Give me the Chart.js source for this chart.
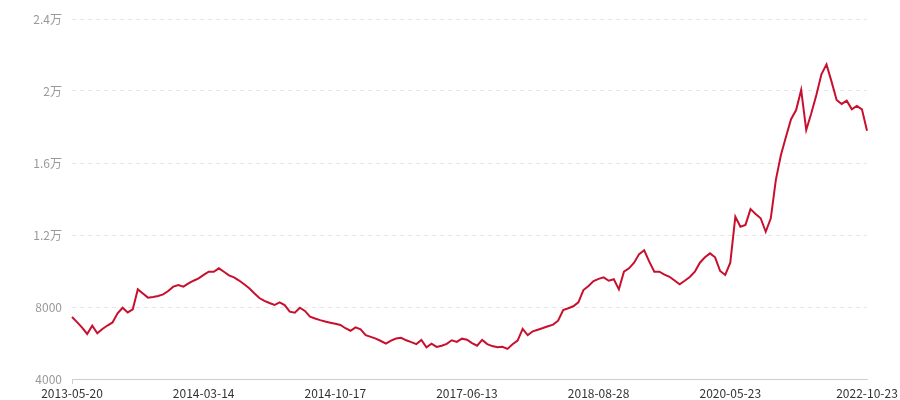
<!DOCTYPE html>
<html>
<head>
<meta charset="utf-8">
<script src="https://cdn.jsdelivr.net/npm/chart.js@4"></script>
<style>
  html, body { margin: 0; padding: 0; background: #fff; }
  #wrap { width: 900px; height: 400px; position: relative; }
</style>
</head>
<body>
<div id="wrap"><canvas id="chart"></canvas></div>
<script>
// tick dates shown on the x axis, every 26th point plus the last one
const tickDates = ['2013-05-20', '2014-03-14', '2014-10-17', '2017-06-13', '2018-08-28', '2020-05-23', '2022-10-23']
const tickIndexes = [0, 26, 52, 78, 104, 130, 157]

const values = [
  7440, 7160, 6850, 6500, 6960, 6540, 6780, 6970, 7140, 7650,
  7960, 7700, 7870, 8980, 8750, 8520, 8560, 8610, 8700, 8890,
  9130, 9220, 9130, 9310, 9460, 9590, 9780, 9960, 9960, 10150,
  9960, 9760, 9650, 9470, 9260, 9040, 8760, 8500, 8340, 8220,
  8110, 8260, 8110, 7740, 7680, 7960, 7780, 7460, 7360, 7270,
  7190, 7130, 7070, 7000, 6820, 6680, 6870, 6760, 6440, 6340,
  6240, 6110, 5960, 6130, 6250, 6290, 6150, 6050, 5940, 6170,
  5760, 5960, 5780, 5850, 5950, 6150, 6060, 6240, 6180, 5990,
  5850, 6170, 5940, 5830, 5760, 5790, 5670, 5930, 6130, 6780,
  6440, 6650, 6740, 6830, 6930, 7020, 7240, 7830, 7930, 8040,
  8260, 8940, 9170, 9440, 9560, 9650, 9460, 9540, 8980, 9960,
  10150, 10460, 10940, 11150, 10520, 9960, 9960, 9800, 9680, 9470,
  9260, 9460, 9670, 9960, 10460, 10760, 10980, 10760, 10000, 9780,
  10460, 13020, 12460, 12560, 13440, 13170, 12930, 12180, 12930, 15060,
  16440, 17460, 18430, 18940, 20060, 17830, 18760, 19780, 20930, 21480,
  20520, 19500, 19280, 19460, 18980, 19170, 18980, 17790
]

const yMin = 4000
const yMax = 24000
const yStep = 4000

const labels = values.map((v, i) => {
  const k = tickIndexes.indexOf(i)
  return k >= 0 ? tickDates[k] : ''
})

const font = "'Noto Sans CJK SC', 'Microsoft YaHei', sans-serif"

new Chart(document.getElementById('chart'), {
  type: 'line',
  data: {
    labels: labels,
    datasets: [{
      data: values,
      borderColor: '#c8102e',
      borderWidth: 2,
      pointRadius: 0,
      tension: 0,
      fill: false
    }]
  },
  options: {
    responsive: true,
    maintainAspectRatio: false,
    animation: false,
    layout: { padding: { left: 0, right: 33, top: 19, bottom: 0 } },
    plugins: {
      legend: { display: false },
      tooltip: { enabled: false }
    },
    scales: {
      x: {
        afterFit: s => { s.height = 21 },
        grid: {
          drawOnChartArea: false,
          drawTicks: true,
          tickLength: 5,
          color: ctx => labels[ctx.index] ? '#cfcfcf' : 'rgba(0,0,0,0)'
        },
        border: { display: true, color: '#cfcfcf', width: 1 },
        ticks: {
          autoSkip: false,
          maxRotation: 0,
          minRotation: 0,
          padding: 2,
          color: '#333',
          font: { family: font, size: 12 },
          callback: (v, i) => labels[i] || null
        }
      },
      y: {
        min: yMin,
        max: yMax,
        afterFit: s => { s.width = 72 },
        grid: {
          drawTicks: false,
          color: ctx => ctx.tick && ctx.tick.value === yMin ? 'rgba(0,0,0,0)' : '#e6e6e6'
        },
        border: { display: false, dash: [4, 4] },
        ticks: {
          stepSize: yStep,
          padding: 10,
          color: '#999',
          font: { family: font, size: 12 },
          callback: v => v >= 10000 ? (v / 10000) + '万' : String(v)
        }
      }
    }
  }
})
</script>
</body>
</html>
